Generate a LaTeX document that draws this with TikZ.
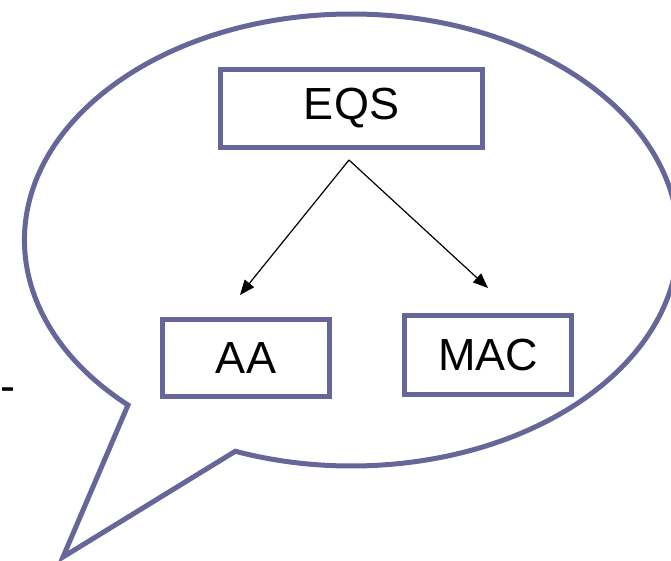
\documentclass[tikz,border=0pt]{standalone}
\usepackage{fontspec}
\setmainfont{Liberation Sans}
\usepackage{tikz}
\usetikzlibrary{arrows.meta}
\definecolor{bubble}{RGB}{102,102,153}

\begin{document}
\begin{tikzpicture}[x=1pt, y=-1pt,
    box/.style={rectangle, draw=bubble, line width=5pt, inner sep=0pt,
                font=\fontsize{45}{54}\selectfont},
    link/.style={-{Triangle[length=15pt, width=12pt]}, line width=1.2pt}]
            \useasboundingbox (0,0) rectangle (671,560);
            \clip (0,0) rectangle (671,560);
            % Bubble
            \coordinate (tip) at (63,557);
            \coordinate (left) at (128,405);
            \draw[bubble, line width=5pt, line join=miter] (tip) -- (left)
                arc[start angle=133.1, end angle=470.8, x radius=327, y radius=226] -- cycle;
            % Boxes
            \node[box, minimum width=262pt, minimum height=78pt] (eqs) at (351.5,108.5) {EQS};
            \node[box, minimum width=167pt, minimum height=77pt] (aa) at (246,358) {AA};
            \node[box, minimum width=167pt, minimum height=79pt] (mac) at (488,355) {MAC};
            % Dash
            \node[anchor=base west, inner sep=0pt, font=\fontsize{45}{54}\selectfont] (dash) at (0,401) {-};
            % Arrows
            \coordinate (fork) at (349,160);
            \coordinate (aatop) at (240,295);
            \coordinate (mactop) at (488,288);
            \draw[link] (fork) -- (aatop);
            \draw[link] (fork) -- (mactop);
        \end{tikzpicture}
\end{document}
